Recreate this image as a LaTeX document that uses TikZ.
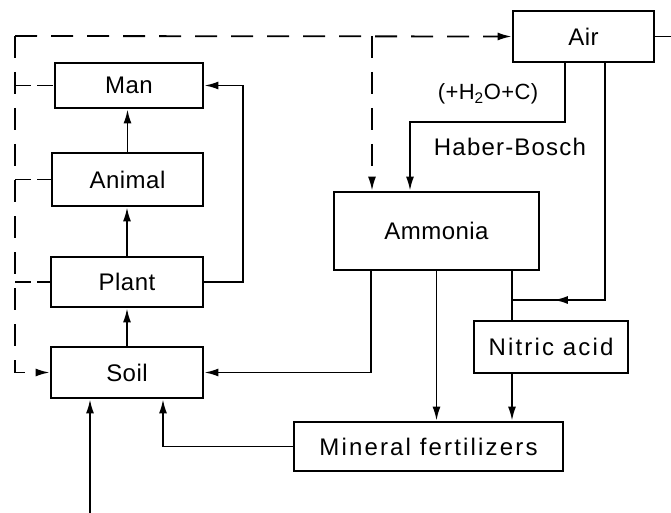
\documentclass[tikz,border=0pt]{standalone}
\usepackage{fontspec}
\setmainfont{Liberation Sans}[LetterSpace=2]
\usetikzlibrary{arrows.meta,decorations.markings}
\begin{document}
\begin{tikzpicture}[x=1pt,y=-1pt,
  box/.style={draw,line width=2.8pt,inner sep=0pt,font=\fontsize{24}{28}\selectfont},
  wide/.style={font=\fontsize{24}{28}\selectfont\addfontfeature{LetterSpace=9}},
  ln/.style={line width=1.8pt},
  tip/.style={-{Latex[length=14pt,width=8pt]}},
  arr/.style={ln,tip},
  dsh/.style={dash pattern=on 22pt off 14pt},
  stub/.style={ln,dash pattern=on 16pt off 6pt},
  lbl/.style={font=\fontsize{24}{28}\selectfont,inner sep=0pt}]
\useasboundingbox (0,0) rectangle (671,513);
% boxes
\node[box,minimum width=148pt,minimum height=45pt] (man) at (129,85.5) {Man};
\node[box,minimum width=151pt,minimum height=53pt] (animal) at (127.5,179.5) {Animal};
\node[box,minimum width=152pt,minimum height=50pt] (plant) at (127,282) {Plant};
\node[box,minimum width=152pt,minimum height=51pt] (soil) at (127,372.5) {Soil};
\node[box,minimum width=141pt,minimum height=51pt] (air) at (583.5,36.5) {Air};
\node[box,minimum width=205pt,minimum height=78pt] (ammonia) at (436.5,231) {Ammonia};
\node[box,wide,minimum width=154pt,minimum height=52pt] (nitric) at (551,347) {Nitric acid};
\node[box,wide,minimum width=269pt,minimum height=49pt] (mf) at (428.5,446.5) {Mineral fertilizers};
% labels
\node[lbl,font=\fontsize{22}{26}\selectfont] (l1) at (488,94) {(+H\textsubscript{2}O+C)};
\node[lbl,font=\fontsize{24}{28}\selectfont\addfontfeature{LetterSpace=5}] (l2) at (510,147) {Haber-Bosch};
% helper coordinates
\coordinate (tl) at (15,36);
\coordinate (dx) at (372,36);
\coordinate (re) at (671,36.5);
\coordinate (nx) at (512,0);
\coordinate (ax) at (605,0);
\coordinate (j) at (512,300);
\coordinate (hx) at (565,0);
\coordinate (hy) at (410,0);
\coordinate (sx) at (163,0);
\coordinate (bx) at (90,513);
\coordinate (px) at (243,0);
% chain
\draw[arr] (animal.north) -- (animal.north |- man.south);
\draw[arr] (plant.north) -- (plant.north |- animal.south);
\draw[arr] (soil.north) -- (soil.north |- plant.south);
\draw[arr] (plant.east) -| (px |- man.east) -- (man.east);
% dashed
\draw[ln,dsh,tip] (tl) -- (air.west);
\draw[ln,dsh,tip] (tl) |- (soil.west);
\draw[ln,dsh,tip] (dx) -- (dx |- ammonia.north);
\draw[stub] (man.west -| tl) -- (man.west);
\draw[stub] (animal.west -| tl) -- (animal.west);
\draw[stub] (plant.west -| tl) -- (plant.west);
% air
\draw[ln] (air.east) -- (re);
\draw[arr] (hx |- air.south) -- ++(0,59) -| (hy |- ammonia.north);
\draw[ln] (ax |- air.south) |- (j);
\draw[ln,postaction=decorate,decoration={markings,mark=at position 0.55 with {\arrow{Latex[length=14pt,width=8pt]}}}] (ax |- j) -- (j);
% ammonia outputs
\draw[arr] ([xshift=-65.5pt]ammonia.south) |- (soil.east);
\draw[arr] (ammonia.south) -- (ammonia.south |- mf.north);
\draw[ln] (nx |- ammonia.south) -- (nx |- nitric.north);
\draw[arr] (nx |- nitric.south) -- (nx |- mf.north);
% to soil
\draw[arr] (mf.west) -| (sx |- soil.south);
\draw[arr] (bx) -- (bx |- soil.south);
\end{tikzpicture}
\end{document}
